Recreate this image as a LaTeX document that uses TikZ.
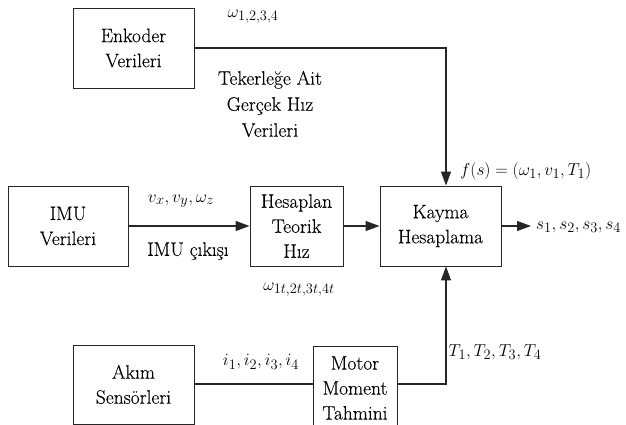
\documentclass[tikz,border=0pt]{standalone}
\usepackage{fontspec}
\setmainfont{Latin Modern Roman}[FakeBold=0.15]
\usetikzlibrary{arrows.meta}
\tikzset{
  blk/.style={draw=black!85, line width=0.9pt, align=center, inner sep=0pt,
    font=\fontsize{19.5}{25}\selectfont},
  conn/.style={draw=black!85, line width=1.2pt},
  arr/.style={conn, -{Triangle[length=14pt,width=10pt]}},
  lbl/.style={inner sep=0pt, align=center, font=\fontsize{19.5}{26}\selectfont},
  mlbl/.style={inner sep=0pt, font=\fontsize{19}{23}\selectfont}
}
\begin{document}
\begin{tikzpicture}[x=1pt,y=-1pt]
\useasboundingbox (0,0) rectangle (626,425);
\clip (0,0) rectangle (626,425);
% blocks
\node[blk, minimum width=121pt, minimum height=80pt] (enk) at (133.5,48) {Enkoder\\Verileri};
\node[blk, minimum width=120pt, minimum height=80pt] (imu) at (68,226) {IMU\\Verileri};
\node[blk, minimum width=93pt, minimum height=80pt] (hes) at (296.5,226) {Hesaplan\\Teorik\\Hız};
\node[blk, minimum width=121pt, minimum height=80pt] (kay) at (440.5,226) {Kayma\\Hesaplama};
\node[blk, minimum width=121pt, minimum height=79pt] (akm) at (133.5,384.5) {Akım\\Sensörleri};
\node[blk, minimum width=84pt, minimum height=84pt] (mot) at (355,388) {Motor\\Moment\\Tahmini};
% junction points
\coordinate (c1) at (446,48);
\coordinate (c2) at (446,384);
\coordinate (out) at (531,226);
% connectors
\draw[arr] (enk.east |- c1) -- (c1) -- (c1 |- kay.north);
\draw[arr] (imu.east) -- (hes.west);
\draw[arr] (hes.east) -- (kay.west);
\draw[arr] (kay.east) -- (out);
\draw[conn] (akm.east |- c2) -- (mot.west |- c2);
\draw[arr] (mot.east |- c2) -- (c2) -- (c2 |- kay.south);
% labels
\node[mlbl] (l1) at (253,17) {$\omega_{1,2,3,4}$};
\node[lbl] (l2) at (270,104) {Tekerleğe Ait\\Gerçek Hız\\Verileri};
\node[mlbl, anchor=west] (l3) at (460,171) {$f(s)=(\omega_1,v_1,T_1)$};
\node[mlbl] (l4) at (181,201) {$v_x,v_y,\omega_z$};
\node[lbl] (l5) at (188,251) {IMU çıkışı};
\node[mlbl] (l6) at (299,290) {$\omega_{1t,2t,3t,4t}$};
\node[mlbl] (l7) at (261,362) {$i_1,i_2,i_3,i_4$};
\node[mlbl] (l8) at (495,352) {$T_1,T_2,T_3,T_4$};
\node[mlbl, anchor=west] (l9) at (536,227) {$s_1,s_2,s_3,s_4$};
\end{tikzpicture}
\end{document}
